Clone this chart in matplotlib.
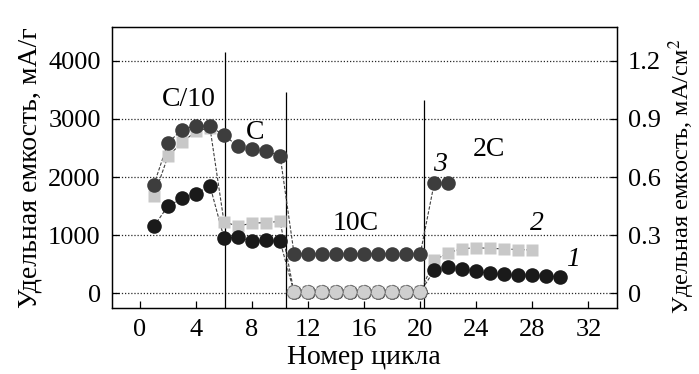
import numpy as np
import matplotlib
matplotlib.use("Agg")
import matplotlib.pyplot as plt

plt.rcParams['font.family'] = ['Liberation Serif', 'DejaVu Serif']
plt.rcParams['mathtext.fontset'] = 'stix'

# cycle numbers
cyc_1 = list(range(1, 31))
cyc_2 = list(range(1, 29))
cyc_3 = list(range(1, 23))

# curve 1 (black circles), mA/g
cap_1 = [1155, 1500, 1635, 1715, 1850,
         955, 965, 900, 910, 895,
         20, 20, 20, 20, 20, 20, 20, 20, 20, 20,
         400, 458, 423, 383, 343, 326, 314, 309, 297, 286]
# curve 2 (grey squares)
cap_2 = [1670, 2355, 2595, 2785, 2850,
         1230, 1155, 1210, 1215, 1240,
         20, 20, 20, 20, 20, 20, 20, 20, 20, 20,
         570, 700, 770, 785, 775, 765, 755, 745]
# curve 3 (dark grey circles)
cap_3 = [1870, 2585, 2815, 2885, 2870,
         2720, 2530, 2480, 2440, 2370,
         680, 680, 680, 680, 680, 680, 680, 680, 680, 680,
         1900, 1900]

# rate regions
regions = ["C/10", "C", "10C", "2C"]
region_x = [3.5, 8.2, 15.4, 24.9]
region_y = [3330, 2760, 1200, 2470]
borders = [6.1, 10.4, 20.3]
border_top = [4150, 3465, 3330]

fig = plt.figure(figsize=(6.99, 3.74), dpi=100)
ax = fig.add_axes([0.160, 0.1765, 0.722, 0.7515])

ls = (0, (3, 1.5))
# connecting lines
ax.plot(cyc_1, cap_1, ls=ls, color='0.25', lw=0.8, zorder=2)
ax.plot(cyc_2, cap_2, ls=ls, color='0.25', lw=0.8, zorder=2)
ax.plot(cyc_3, cap_3, ls=ls, color='0.25', lw=0.8, zorder=2)

# markers
ax.plot(cyc_2, cap_2, ls='none', marker='s', ms=8.5, color='#c8c8c8', mec='none', zorder=3)
ax.plot(cyc_1, cap_1, ls='none', marker='o', ms=10.5, color='#1a1a1a', mec='none', zorder=4)
ax.plot(cyc_3, cap_3, ls='none', marker='o', ms=10.5, color='#3d3d3d', mec='none', zorder=4)
# 10C: curves 1 and 2 overlap near zero
ax.scatter(cyc_1[10:20], cap_1[10:20], s=100, color='#cfcfcf', edgecolors='0.45',
           linewidths=0.8, linestyle='--', zorder=5)

ax.set_xlim(-2, 34)
ax.set_ylim(-250, 4580)
ax.set_xticks(range(0, 33, 4))
ax.set_yticks(range(0, 4001, 1000))
for yv in range(0, 4001, 1000):
    ax.axhline(yv, color='0.15', lw=0.9, ls=(0, (1, 1.5)), zorder=1)

ax.vlines(borders, -250, border_top, color='black', lw=0.9, zorder=1)

for name, xv, yv in zip(regions, region_x, region_y):
    ax.text(xv, yv, name, fontsize=20, ha='center', va='center')

ax.text(21.4, 2213, "3", fontsize=20, style='italic', ha='center', va='center')
ax.text(28.3, 1200, "2", fontsize=20, style='italic', ha='center', va='center')
ax.text(30.9, 583, "1", fontsize=20, style='italic', ha='center', va='center')

ax.tick_params(direction='in', length=5, width=0.9, labelsize=19, pad=8)
ax.set_xlabel("Номер цикла", fontsize=20, labelpad=3)
ax.set_ylabel("Удельная емкость, мА/г", fontsize=20, labelpad=4)

ax2 = ax.twinx()
ax2.set_ylim(-250 * 0.0003, 4580 * 0.0003)
ax2.set_yticks([0, 0.3, 0.6, 0.9, 1.2])
ax2.set_yticklabels(["0", "0.3", "0.6", "0.9", "1.2"])
ax2.tick_params(direction='in', length=5, width=0.9, labelsize=19, pad=8)
fig.text(682 / 699, 1 - 176 / 374, "Удельная емкость, мА/см$^2$", fontsize=17.5,
         rotation=90, ha='center', va='center')

for a in (ax, ax2):
    for sp in a.spines.values():
        sp.set_linewidth(0.9)

fig.savefig("out.png", dpi=100)
